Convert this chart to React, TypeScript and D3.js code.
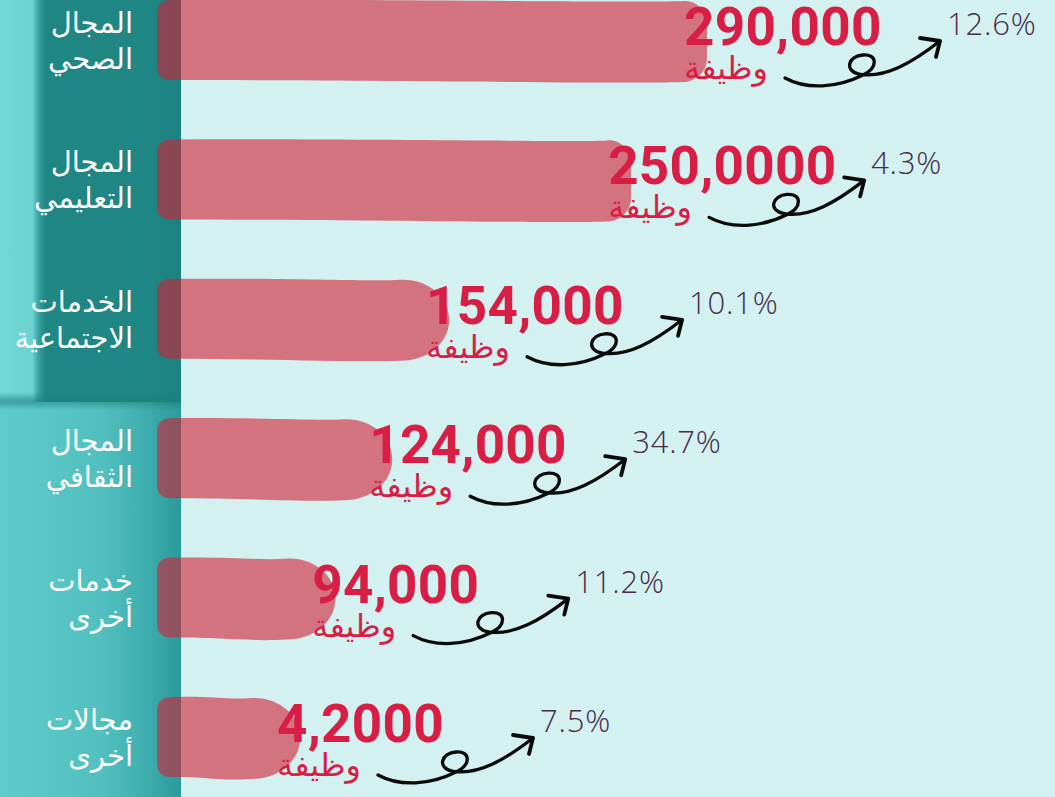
import React from "react";
import * as d3 from "d3";

const categories: string[][] = [
  ["المجال", "الصحي"],
  ["المجال", "التعليمي"],
  ["الخدمات", "الاجتماعية"],
  ["المجال", "الثقافي"],
  ["خدمات", "أخرى"],
  ["مجالات", "أخرى"],
];
const jobValues: number[] = [290000, 250000, 154000, 124000, 94000, 42000];
const valueLabels: string[] = ["290,000", "250,0000", "154,000", "124,000", "94,000", "4,2000"];
const growthLabels: string[] = ["12.6%", "4.3%", "10.1%", "34.7%", "11.2%", "7.5%"];
const unitLabel = "وظيفة";

const W = 1055;
const H = 797;
const PANEL_W = 181;
const BAR_X0 = 157;
const MIN_BAR = 143;
const BAR_H = 82;

const ARABIC = "'DejaVu Sans', 'Noto Sans', sans-serif";

function blobPath(x0: number, x1: number, y0: number, y1: number, rx: number, ry: number, rl: number) {
  const k = 0.5523;
  const p = d3.path();
  p.moveTo(x0 + rl, y0);
  p.bezierCurveTo(x0 + (x1 - x0) * 0.45, y0 - 1, x1 - rx - 30, y0 + 3, x1 - rx, y0 + 1);
  p.bezierCurveTo(x1 - rx + rx * k, y0, x1, y0 + ry - ry * k, x1, y0 + ry);
  if (y1 - y0 > 2 * ry) p.lineTo(x1, y1 - ry);
  p.bezierCurveTo(x1, y1 - ry + ry * k, x1 - rx + rx * k, y1, x1 - rx, y1);
  p.bezierCurveTo(x1 - rx - 40, y1 + 2, x0 + (x1 - x0) * 0.4, y1 - 2, x0 + rl, y1 - 2);
  p.quadraticCurveTo(x0, y1 - 2, x0, y1 - rl - 2);
  p.lineTo(x0, y0 + rl);
  p.quadraticCurveTo(x0, y0, x0 + rl, y0);
  p.closePath();
  return p.toString();
}

export default function App() {
  const x = d3.scaleLinear().domain([0, 290000]).range([BAR_X0, BAR_X0 + 550]);
  const y = d3
    .scaleBand<number>()
    .domain(d3.range(categories.length))
    .range([-2, -2 + 6 * 139.4])
    .padding(0);

  const arrowLine =
    "M0,0 C22,12 52,10 78,-3 C93,-10 93,-24 78,-23 C63,-22 59,-7 74,-4 C100,1 128,-16 155,-37";
  const arrowHead = "M135,-40 L155,-37 L151,-21";

  return (
    <svg
      width={W}
      height={H}
      style={{ position: "absolute", left: 0, top: 0, display: "block" }}
      xmlns="http://www.w3.org/2000/svg"
    >
      <defs>
        <linearGradient id="topStrip" x1="0" x2="1" y1="0" y2="0">
          <stop offset="0" stopColor="#74d9d6" />
          <stop offset="0.18" stopColor="#6ad2d0" />
          <stop offset="0.21" stopColor="#3aa6a4" />
          <stop offset="0.25" stopColor="#1f8683" />
          <stop offset="0.8" stopColor="#1f8785" />
          <stop offset="1" stopColor="#1c8280" />
        </linearGradient>
        <linearGradient id="bottomPanel" x1="0" x2="1" y1="0" y2="0">
          <stop offset="0" stopColor="#60cbcb" />
          <stop offset="0.55" stopColor="#52c0c0" />
          <stop offset="0.8" stopColor="#3faeae" />
          <stop offset="1" stopColor="#2b9a9a" />
        </linearGradient>
        <linearGradient id="seam" x1="0" x2="0" y1="0" y2="1">
          <stop offset="0" stopColor="#1c7f7d" stopOpacity="0" />
          <stop offset="0.5" stopColor="#1c7f7d" stopOpacity="0.6" />
          <stop offset="1" stopColor="#1c7f7d" stopOpacity="0" />
        </linearGradient>
      </defs>

      <rect x={0} y={0} width={W} height={H} fill="#d2f1f0" />
      <rect x={0} y={0} width={PANEL_W} height={402} fill="url(#topStrip)" />
      <rect x={0} y={402} width={PANEL_W} height={H - 402} fill="url(#bottomPanel)" />
      <rect x={0} y={392} width={PANEL_W} height={18} fill="url(#seam)" />

      {categories.map((lines, i) => {
        const top = y(i) as number;
        return (
          <text
            key={"lab" + i}
            x={133}
            textAnchor="end"
            fill="#ffffff"
            fontFamily={ARABIC}
            fontSize={29}
          >
            <tspan x={133} y={top + 35}>{lines[0]}</tspan>
            <tspan x={133} y={top + 71}>{lines[1]}</tspan>
          </text>
        );
      })}

      {jobValues.map((v, i) => {
        const top = y(i) as number;
        const x1 = Math.max(x(v), BAR_X0 + MIN_BAR);
        const w = x1 - BAR_X0;
        const rx = w > 400 ? 24 : 48;
        const ry = w > 400 ? 24 : 40;
        return (
          <path
            key={"bar" + i}
            d={blobPath(BAR_X0, x1, top + 2, top + 2 + BAR_H, rx, ry, 14)}
            fill="rgb(211,31,53)"
            fillOpacity={0.6}
          />
        );
      })}

      {jobValues.map((v, i) => {
        const top = y(i) as number;
        const x1 = Math.max(x(v), BAR_X0 + MIN_BAR);
        const tx = x1 - 23;
        const base = top + 47;
        return (
          <g key={"lbl" + i}>
            <text
              x={tx}
              y={base}
              fill="#d81e45"
              fontFamily="Roboto, 'DejaVu Sans', sans-serif"
              fontWeight={700}
              fontSize={53}
              letterSpacing={0.3}
            >
              {valueLabels[i]}
            </text>
            <text
              x={tx}
              y={base + 34}
              fill="#d81e45"
              fontFamily={ARABIC}
              fontSize={32}
            >
              {unitLabel}
            </text>
            <g transform={`translate(${tx + 101},${base + 33})`}>
              <path d={arrowLine} fill="none" stroke="#0a0a0a" strokeWidth={3.3} strokeLinecap="round" />
              <path d={arrowHead} fill="none" stroke="#0a0a0a" strokeWidth={3.8} strokeLinecap="round" strokeLinejoin="round" />
            </g>
            <text
              x={tx + 263}
              y={base - 10}
              fill="#4b2a48"
              fontFamily="'Open Sans', Lato, sans-serif"
              fontWeight={300}
              fontSize={31}
              letterSpacing={0.8}
            >
              {growthLabels[i]}
            </text>
          </g>
        );
      })}
    </svg>
  );
}
